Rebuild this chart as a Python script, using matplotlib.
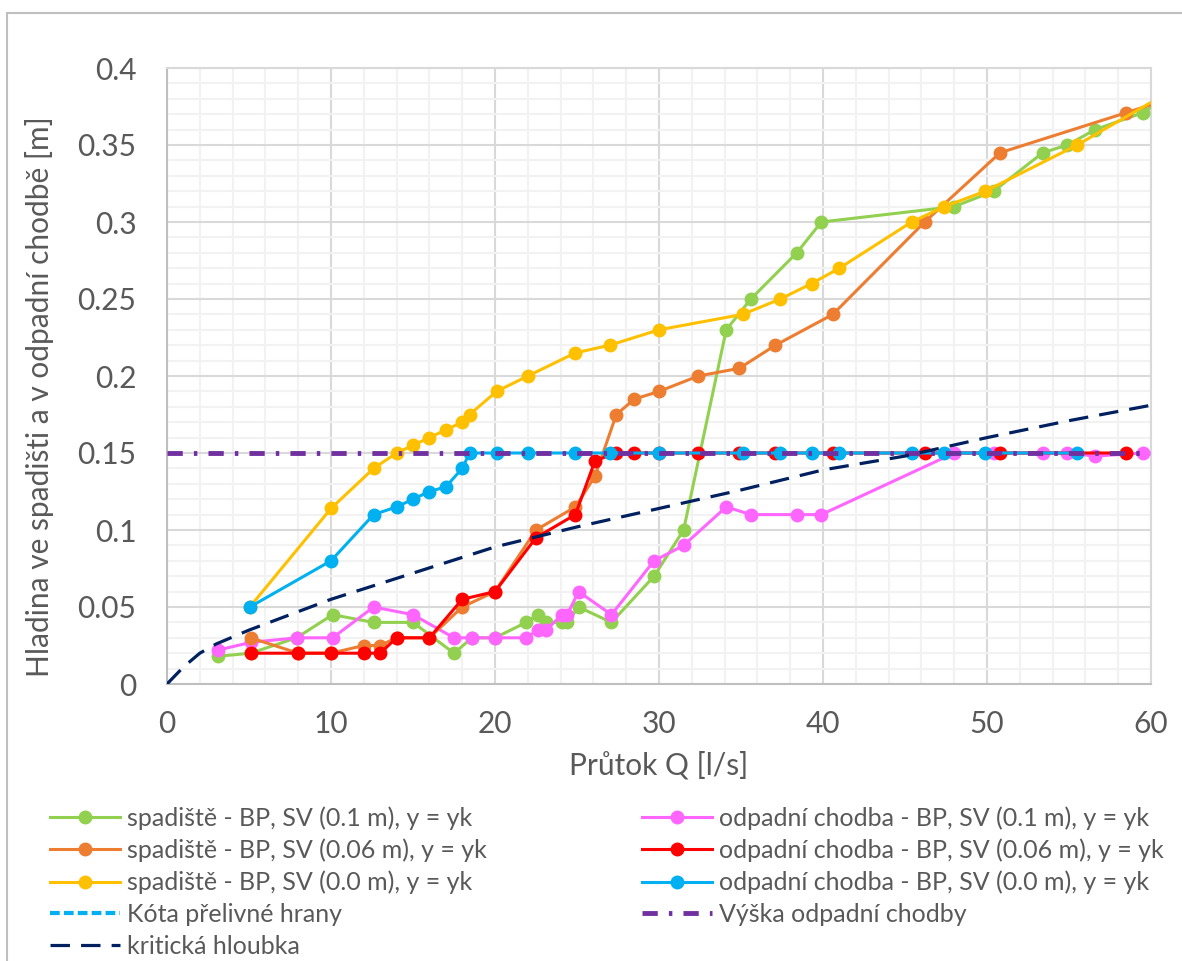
import matplotlib
matplotlib.use("Agg")
import matplotlib.pyplot as plt
from matplotlib.ticker import MultipleLocator

plt.rcParams['font.family'] = ['Lato', 'DejaVu Sans']
plt.rcParams['lines.scale_dashes'] = False

# spadiste / odpadni chodba, SV 0.1 m
q_sv010 = [3.1, 5.1, 7.9, 10.1, 12.6, 15.0, 17.5, 18.6, 20.0, 21.9, 22.6, 23.1, 24.1, 24.4,
           25.1, 27.1, 29.7, 31.5, 34.1, 35.6, 38.4, 39.9, 48.0, 50.4, 53.4, 54.9, 56.6, 59.5, 61.5]
h_spad_010 = [0.018, 0.02, 0.03, 0.045, 0.04, 0.04, 0.02, 0.03, 0.03, 0.04, 0.045, 0.04, 0.04, 0.04,
              0.05, 0.04, 0.07, 0.1, 0.23, 0.25, 0.28, 0.3, 0.31, 0.32, 0.345, 0.35, 0.36, 0.371, 0.385]
h_odp_010 = [0.022, 0.027, 0.03, 0.03, 0.05, 0.045, 0.03, 0.03, 0.03, 0.03, 0.035, 0.035, 0.045, 0.045,
             0.06, 0.045, 0.08, 0.09, 0.115, 0.11, 0.11, 0.11, 0.15, 0.15, 0.15, 0.15, 0.148, 0.15]

# SV 0.06 m
q_sv006 = [5.1, 8.0, 10.0, 12.0, 13.0, 14.0, 16.0, 18.0, 20.0, 22.5, 24.9, 26.1, 27.4, 28.5,
           30.0, 32.4, 34.9, 37.1, 40.6, 46.2, 50.8, 58.5, 62.0]
h_spad_006 = [0.03, 0.02, 0.02, 0.025, 0.025, 0.03, 0.03, 0.05, 0.06, 0.1, 0.115, 0.135, 0.175, 0.185,
              0.19, 0.2, 0.205, 0.22, 0.24, 0.3, 0.345, 0.371, 0.383]
h_odp_006 = [0.02, 0.02, 0.02, 0.02, 0.02, 0.03, 0.03, 0.055, 0.06, 0.095, 0.11, 0.145, 0.15, 0.15,
             0.15, 0.15, 0.15, 0.15, 0.15, 0.15, 0.15, 0.15]

# SV 0.0 m
q_sv000 = [5.05, 10.0, 12.6, 14.0, 15.0, 16.0, 17.0, 18.0, 18.45, 20.1, 22.0, 24.9, 27.0, 30.0,
           35.1, 37.4, 39.3, 41.0, 45.4, 47.4, 49.9, 55.5, 62.0]
h_spad_000 = [0.05, 0.114, 0.14, 0.15, 0.155, 0.16, 0.165, 0.17, 0.175, 0.19, 0.2, 0.215, 0.22, 0.23,
              0.24, 0.25, 0.26, 0.27, 0.3, 0.31, 0.32, 0.35, 0.39]
h_odp_000 = [0.05, 0.08, 0.11, 0.115, 0.12, 0.125, 0.128, 0.14, 0.15, 0.15, 0.15, 0.15, 0.15, 0.15,
             0.15, 0.15, 0.15, 0.15, 0.15, 0.15, 0.15, 0.15]

q_kota, h_kota = [], []
q_vyska = [0, 60]
h_vyska = [0.15, 0.15]
q_krit = [0, 1, 2, 3, 5, 10, 15, 20, 25, 30, 35, 40, 45, 50, 55, 60]
h_krit = [0, 0.011, 0.02, 0.026, 0.035, 0.055, 0.072, 0.089, 0.102, 0.114, 0.126, 0.139, 0.148,
          0.16, 0.171, 0.181]

GREEN = '#92D050'
ORANGE = '#ED7D31'
YELLOW = '#FFC000'
PINK = '#FF66FF'
RED = '#FF0000'
CYAN = '#00B0F0'
PURPLE = '#7030A0'
NAVY = '#002060'
TXT = '#595959'

fig = plt.figure(figsize=(11.82, 9.61), dpi=100)
fig.add_artist(plt.Rectangle((7 / 1182, -0.1), 1.2, 1 - 13 / 961 + 0.1, transform=fig.transFigure,
                             fill=False, edgecolor='#BFBFBF', linewidth=1.5))
ax = fig.add_axes([167 / 1182, 1 - 684 / 961, (1151 - 167) / 1182, (684 - 68) / 961])

mk = dict(marker='o', markersize=9, linewidth=2.2)
l_g, = ax.plot(q_sv010, h_spad_010, color=GREEN, zorder=3, **mk)
l_p, = ax.plot(q_sv010[:len(h_odp_010)], h_odp_010, color=PINK, zorder=4, **mk)
l_o, = ax.plot(q_sv006, h_spad_006, color=ORANGE, zorder=5, **mk)
l_r, = ax.plot(q_sv006[:len(h_odp_006)], h_odp_006, color=RED, zorder=6, **mk)
l_y, = ax.plot(q_sv000, h_spad_000, color=YELLOW, zorder=7, **mk)
l_c, = ax.plot(q_sv000[:len(h_odp_000)], h_odp_000, color=CYAN, zorder=8, **mk)
l_k, = ax.plot(q_kota, h_kota, color=CYAN, linewidth=3, dash_capstyle='butt',
               linestyle=(0, (7, 3)), zorder=9)
l_v, = ax.plot(q_vyska, h_vyska, color=PURPLE, linewidth=3.5, solid_capstyle='butt',
               dash_capstyle='butt', linestyle=(0, (11, 8, 2.5, 8)), zorder=9)
l_n, = ax.plot(q_krit, h_krit, color=NAVY, linewidth=2.3, dash_capstyle='butt',
               linestyle=(0, (14, 8)), zorder=10)

ax.set_xlim(0, 60)
ax.set_ylim(0, 0.4)
ax.xaxis.set_major_locator(MultipleLocator(10))
ax.xaxis.set_minor_locator(MultipleLocator(2))
ax.yaxis.set_minor_locator(MultipleLocator(0.01))
ax.set_yticks([0, 0.05, 0.1, 0.15, 0.2, 0.25, 0.3, 0.35, 0.4])
ax.set_yticklabels(['0', '0.05', '0.1', '0.15', '0.2', '0.25', '0.3', '0.35', '0.4'])
ax.grid(which='major', color='#D9D9D9', linewidth=1.5, zorder=1)
ax.grid(which='minor', color='#F2F2F2', linewidth=1.5, zorder=0)
ax.set_axisbelow(True)
ax.tick_params(which='both', length=0, labelsize=21.5, labelcolor=TXT)
ax.tick_params(axis='x', pad=19)
ax.tick_params(axis='y', pad=22)
for s in ax.spines.values():
    s.set_color('#D9D9D9')
    s.set_linewidth(1.5)
ax.spines['left'].set_color('#BFBFBF')
ax.spines['bottom'].set_color('#BFBFBF')

ax.set_xlabel('Průtok Q [l/s]', fontsize=21.5, color=TXT, labelpad=9)
ax.set_ylabel('Hladina ve spadišti a v odpadní chodbě [m]', fontsize=21.5, color=TXT)
ax.yaxis.set_label_coords(-0.115, 0.466)

leg_kw = dict(frameon=False, fontsize=18, handlelength=2.8, handletextpad=0.28,
              labelspacing=0.35, labelcolor=TXT, borderpad=0, borderaxespad=0)
leg1 = fig.legend([l_g, l_o, l_y, l_k, l_n],
                  ['spadiště - BP, SV (0.1 m), y = yk', 'spadiště - BP, SV (0.06 m), y = yk',
                   'spadiště - BP, SV (0.0 m), y = yk', 'Kóta přelivné hrany', 'kritická hloubka'],
                  loc='upper left', bbox_to_anchor=(50 / 1182, 1 - 806 / 961), **leg_kw)
leg2 = fig.legend([l_p, l_r, l_c, l_v],
                  ['odpadní chodba - BP, SV (0.1 m), y = yk', 'odpadní chodba - BP, SV (0.06 m), y = yk',
                   'odpadní chodba - BP, SV (0.0 m), y = yk', 'Výška odpadní chodby'],
                  loc='upper left', bbox_to_anchor=(642 / 1182, 1 - 806 / 961), **leg_kw)

fig.savefig('out.png', dpi=100)
